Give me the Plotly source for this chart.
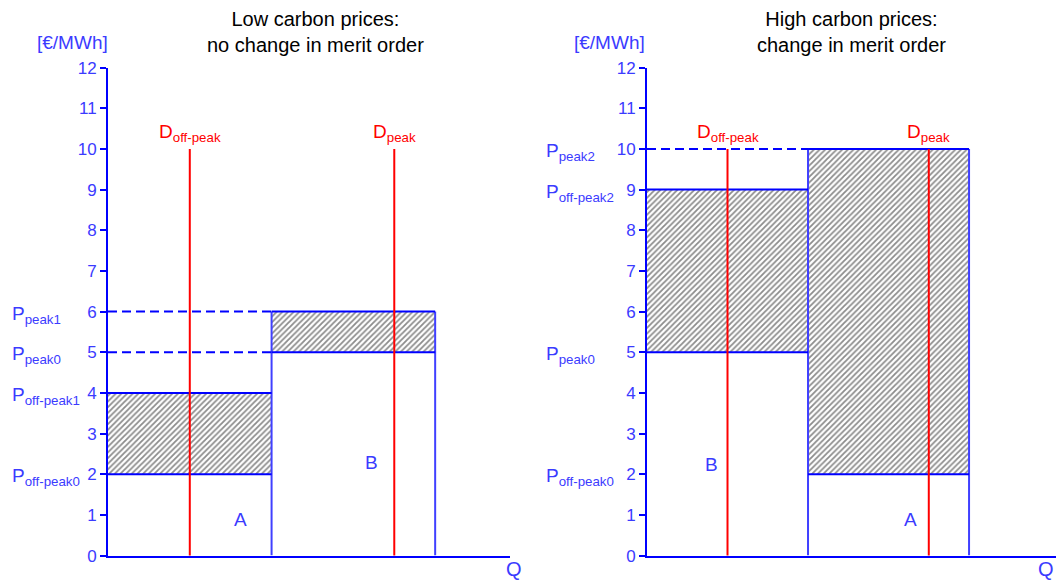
import plotly.graph_objects as go

# ---------------- data ----------------
# Left panel: low carbon prices (no change in merit order)
left_blocks = ["A", "B"]
left_q_start = [0, 4]
left_q_end = [4, 8]
left_p_low = [2, 5]      # price before carbon cost
left_p_high = [4, 6]     # price with carbon cost
# Right panel: high carbon prices (change in merit order)
right_blocks = ["B", "A"]
right_q_start = [0, 4]
right_q_end = [4, 8]
right_p_low = [5, 2]
right_p_high = [9, 10]
# demand (vertical lines)
demand_names = ["off-peak", "peak"]
demand_q = [2, 7]
demand_top = 10
# price labels
left_price_labels = ["peak1", "peak0", "off-peak1", "off-peak0"]
left_price_values = [6, 5, 4, 2]
right_price_labels = ["peak2", "off-peak2", "peak0", "off-peak0"]
right_price_values = [10, 9, 5, 2]
# block letter label positions (same order as blocks)
left_letter_pos = [(3.25, 0.9), (6.45, 2.3)]
right_letter_pos = [(1.6, 2.25), (6.55, 0.9)]
y_ticks = list(range(0, 13))
titles = ["Low carbon prices:<br>no change in merit order",
          "High carbon prices:<br>change in merit order"]

BLUE = "#0000ff"
TXT_BLUE = "#3b3bff"
EDGE_BLUE = "#4040ff"
RED = "#ff0000"
FONT = "Liberation Sans, Arial, Helvetica, sans-serif"

W, H = 1056, 583
fig = go.Figure()


def px_x(p):
    return p / W


def px_y(p):
    # vertical pixel (from top) -> paper fraction, with a small calibration
    q = (p - 8) / 0.969
    return (H - q) / H


def add_panel(xa, ya, qs, qe, plo, phi, dashed_levels):
    # hatched areas
    for a, b, lo, hi in zip(qs, qe, plo, phi):
        fig.add_trace(go.Scatter(
            x=[a, b, b, a, a], y=[lo, lo, hi, hi, lo], mode="lines",
            fill="toself", fillcolor="white",
            fillpattern=dict(shape="/", fgcolor="#1a1a1a", bgcolor="white",
                             size=4, solidity=0.45),
            line=dict(width=0), xaxis=xa, yaxis=ya, hoverinfo="skip",
            showlegend=False))
    # vertical block edges (from 0 to the max top of adjoining blocks)
    for e in sorted(set(qe)):
        top = max(h for a, b, h in zip(qs, qe, phi) if a == e or b == e)
        fig.add_trace(go.Scatter(x=[e, e], y=[0, top], mode="lines",
                                 line=dict(color=EDGE_BLUE, width=2),
                                 xaxis=xa, yaxis=ya, hoverinfo="skip",
                                 showlegend=False))
    # horizontal block lines
    for a, b, lo, hi in zip(qs, qe, plo, phi):
        for lvl in (lo, hi):
            fig.add_trace(go.Scatter(x=[a, b], y=[lvl, lvl], mode="lines",
                                     line=dict(color=BLUE, width=2),
                                     xaxis=xa, yaxis=ya, hoverinfo="skip",
                                     showlegend=False))
    # dashed price levels from the axis
    for lvl, end in dashed_levels:
        fig.add_trace(go.Scatter(x=[0, end], y=[lvl, lvl], mode="lines",
                                 line=dict(color=BLUE, width=2, dash="9px,5px"),
                                 xaxis=xa, yaxis=ya, hoverinfo="skip",
                                 showlegend=False))
    # demand lines
    for q in demand_q:
        fig.add_trace(go.Scatter(x=[q, q], y=[-0.05, demand_top], mode="lines",
                                 line=dict(color=RED, width=2),
                                 xaxis=xa, yaxis=ya, hoverinfo="skip",
                                 showlegend=False))


add_panel("x", "y", left_q_start, left_q_end, left_p_low, left_p_high,
          [(left_p_low[1], left_q_start[1]), (left_p_high[1], left_q_start[1])])
add_panel("x2", "y2", right_q_start, right_q_end, right_p_low, right_p_high,
          [(right_p_high[1], right_q_start[1])])

annotations = []
for xr, yr in (("x", "y"), ("x2", "y2")):
    for name, q in zip(demand_names, demand_q):
        annotations.append(dict(
            x=q, y=demand_top + 0.05, xref=xr, yref=yr, xanchor="center",
            yanchor="bottom", showarrow=False,
            text=f"D<sub>{name}</sub>", font=dict(color=RED, size=19, family=FONT)))

for name, (x, y) in zip(left_blocks, left_letter_pos):
    annotations.append(dict(x=x, y=y, xref="x", yref="y", showarrow=False,
                            text=name, font=dict(color=TXT_BLUE, size=19, family=FONT)))
for name, (x, y) in zip(right_blocks, right_letter_pos):
    annotations.append(dict(x=x, y=y, xref="x2", yref="y2", showarrow=False,
                            text=name, font=dict(color=TXT_BLUE, size=19, family=FONT)))

for lab, v in zip(left_price_labels, left_price_values):
    annotations.append(dict(x=px_x(10), y=v, xref="paper", yref="y",
                            xanchor="left", yanchor="middle", yshift=-3,
                            showarrow=False, text=f"P<sub>{lab}</sub>",
                            font=dict(color=TXT_BLUE, size=19, family=FONT)))
for lab, v in zip(right_price_labels, right_price_values):
    annotations.append(dict(x=px_x(544), y=v, xref="paper", yref="y2",
                            xanchor="left", yanchor="middle", yshift=-3,
                            showarrow=False, text=f"P<sub>{lab}</sub>",
                            font=dict(color=TXT_BLUE, size=19, family=FONT)))

for t, cx in zip(titles, (315, 851)):
    annotations.append(dict(x=px_x(cx), y=px_y(31), xref="paper", yref="paper",
                            xanchor="center", yanchor="middle", showarrow=False,
                            text=t, font=dict(color="black", size=20, family=FONT)))
for cx in (72, 609):
    annotations.append(dict(x=px_x(cx), y=px_y(42), xref="paper", yref="paper",
                            xanchor="center", yanchor="middle", showarrow=False,
                            text="[€/MWh]", font=dict(color=TXT_BLUE, size=19, family=FONT)))
for cx, anchor in ((514, "center"), (1056, "right")):
    annotations.append(dict(x=px_x(cx), y=px_y(569), xref="paper", yref="paper",
                            xanchor=anchor, yanchor="middle", showarrow=False,
                            text="Q", font=dict(color=TXT_BLUE, size=20, family=FONT)))

yax = dict(range=[0, 12], tickvals=y_ticks, ticks="outside", ticklen=6,
           tickwidth=2, tickcolor=BLUE, showline=True, linecolor=BLUE,
           linewidth=2, showgrid=False, zeroline=False,
           tickfont=dict(color=TXT_BLUE, size=17, family=FONT),
           domain=[px_y(555.5), px_y(66.7)], fixedrange=True)
xax = dict(showline=True, linecolor=BLUE, linewidth=2, showgrid=False,
           zeroline=False, showticklabels=False, ticks="", fixedrange=True)

fig.update_layout(
    width=W, height=H, margin=dict(l=0, r=0, t=0, b=0),
    paper_bgcolor="white", plot_bgcolor="white", showlegend=False,
    xaxis=dict(xax, range=[0, 9.83], domain=[px_x(108), px_x(510)], anchor="y"),
    yaxis=dict(yax, anchor="x"),
    xaxis2=dict(xax, range=[0, 10.16], domain=[px_x(647), 1.0], anchor="y2"),
    yaxis2=dict(yax, anchor="x2"),
    annotations=annotations,
)

post = ("document.documentElement.style.margin='0';"
        "document.body.style.margin='0';"
        "document.body.style.overflow='hidden';"
        "var d=document.getElementById('{plot_id}');"
        "d.style.position='fixed';d.style.left='0px';d.style.top='0px';")
fig.write_html("out.html", config={"displayModeBar": False}, post_script=post)
